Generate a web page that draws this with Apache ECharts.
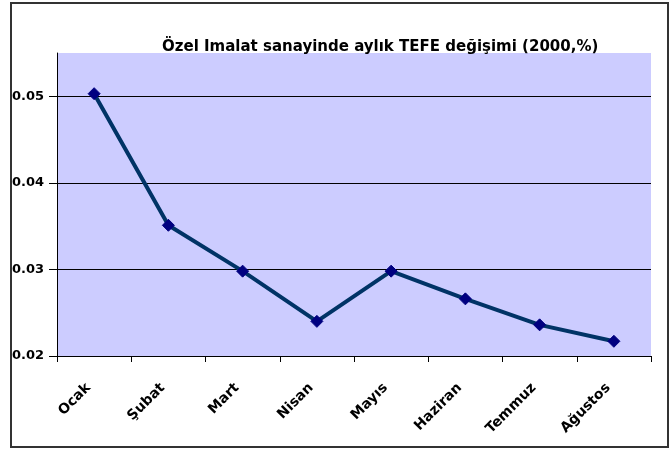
<!DOCTYPE html>
<html>
<head>
<meta charset="utf-8">
<script src="https://cdn.jsdelivr.net/npm/echarts@6/dist/echarts.min.js"></script>
<style>
  html, body { margin: 0; padding: 0; background: #fff; }
  #main { width: 670px; height: 449px; }
</style>
</head>
<body>
<div id="main"></div>
<script>
  // aylar ve TEFE değişimi
  var months = ['Ocak', 'Şubat', 'Mart', 'Nisan', 'Mayıs', 'Haziran', 'Temmuz', 'Ağustos']
  var tefe = [0.0503, 0.0351, 0.0298, 0.0240, 0.0298, 0.0266, 0.0236, 0.0217]
  var yTicks = [0.02, 0.03, 0.04, 0.05]
  var yMin = 0.02
  var yMax = 0.055
  var yStep = 0.01

  var labelFont = {
    fontFamily: 'DejaVu Sans, sans-serif',
    fontWeight: 'bold',
    fontSize: 14,
    color: '#000'
  }

  var myChart = echarts.init(document.getElementById('main'))
  var option = {
    animation: false,
    backgroundColor: '#fff',
    title: {
      text: 'Özel Imalat sanayinde aylık TEFE değişimi (2000,%)',
      left: 157,
      top: 35,
      textStyle: {
        fontFamily: 'DejaVu Sans, sans-serif',
        fontWeight: 'bold',
        fontSize: 15,
        color: '#000'
      }
    },
    graphic: [
      {
        type: 'rect',
        shape: {x: 11, y: 3, width: 657, height: 444},
        style: {fill: 'none', stroke: '#333', lineWidth: 2},
        silent: true
      }
    ],
    grid: {
      left: 57,
      top: 53,
      width: 594,
      height: 303,
      show: true,
      backgroundColor: '#CCCCFF',
      borderColor: '#bbb',
      borderWidth: 0
    },
    xAxis: {
      type: 'category',
      data: months,
      boundaryGap: true,
      axisLine: {lineStyle: {color: '#000', width: 1}},
      axisTick: {show: true, length: 6, lineStyle: {color: '#000'}},
      axisLabel: Object.assign({rotate: 45, margin: 24, interval: 0, padding: [0, 8, 0, 0]}, labelFont)
    },
    yAxis: {
      type: 'value',
      min: yMin,
      max: yMax,
      interval: yStep,
      axisLine: {show: true, lineStyle: {color: '#000', width: 1}},
      axisTick: {show: true, length: 8, customValues: yTicks, lineStyle: {color: '#000'}},
      axisLabel: Object.assign({}, labelFont, {
        fontSize: 13,
        margin: 13,
        customValues: yTicks,
        formatter: function (v) { return v.toFixed(2) }
      }),
      splitLine: {show: true, showMinLine: false, lineStyle: {color: '#000', width: 1}}
    },
    series: [
      {
        type: 'line',
        data: tefe,
        symbol: 'diamond',
        symbolSize: 12,
        lineStyle: {color: '#003366', width: 4},
        itemStyle: {color: '#000080', borderColor: '#000080'}
      }
    ]
  }
  myChart.setOption(option, true)
</script>
</body>
</html>
